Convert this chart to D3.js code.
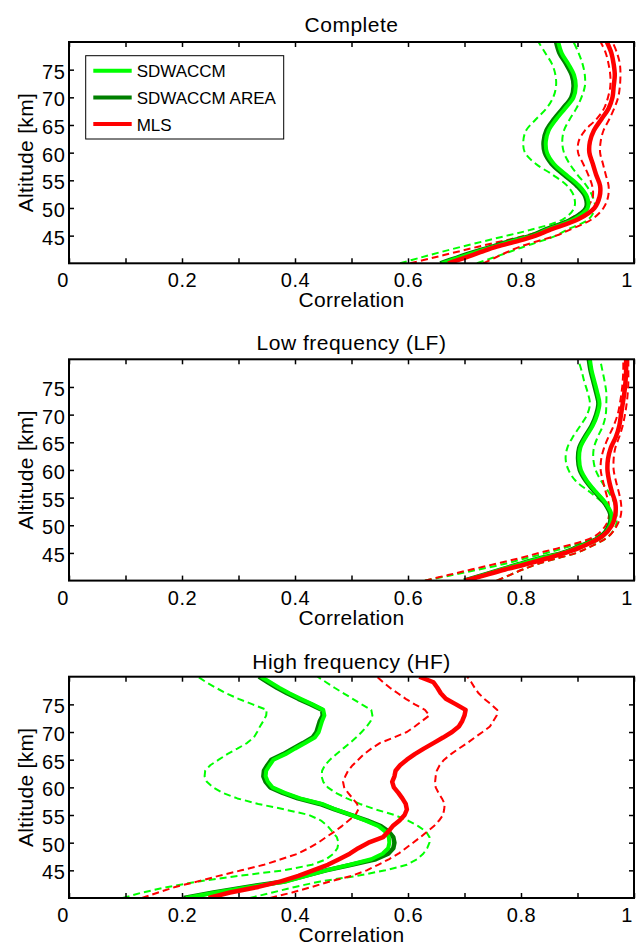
<!DOCTYPE html>
<html><head><meta charset="utf-8">
<script src="https://cdn.jsdelivr.net/npm/d3@7"></script>
<style>
html,body{margin:0;padding:0;background:#fff;}
svg{display:block;font-family:"Liberation Sans",Arial,Helvetica,sans-serif;}
</style></head><body>
<svg id="chart" width="637" height="945"></svg>
<script>
// ---------------- DATA ----------------
const titles = ["Complete", "Low frequency (LF)", "High frequency (HF)"];
const legendNames = ["SDWACCM", "SDWACCM AREA", "MLS"];
const xLabel = "Correlation";
const yLabel = "Altitude [km]";
const xTicks = [0, 0.1, 0.2, 0.3, 0.4, 0.5, 0.6, 0.7, 0.8, 0.9, 1];
const xLabelTicks = [0, 0.2, 0.4, 0.6, 0.8, 1];
const xTickLabels = ["0", "0.2", "0.4", "0.6", "0.8", "1"];
const yTicks = [45, 50, 55, 60, 65, 70, 75];
const yTickLabels = ["45", "50", "55", "60", "65", "70", "75"];

// Panels 1 & 2 altitude grid (km)
const altSmooth = [40,41,42,43,44,45,46,48,50,52,54,56,58,60,62,64,66,68,70,72,74,76,78,80];

// Panel 1: Complete
const p1Sd     = [0.660,0.690,0.720,0.752,0.785,0.822,0.845,0.895,0.918,0.917,0.903,0.880,0.858,0.846,0.844,0.849,0.862,0.878,0.893,0.897,0.894,0.884,0.872,0.866];
const p1SdArea = [0.657,0.686,0.716,0.748,0.781,0.818,0.841,0.891,0.915,0.914,0.899,0.876,0.854,0.842,0.840,0.845,0.858,0.874,0.889,0.893,0.890,0.880,0.868,0.862];
const p1SdLo   = [0.586,0.621,0.657,0.695,0.735,0.775,0.815,0.875,0.894,0.894,0.882,0.856,0.826,0.807,0.804,0.809,0.826,0.845,0.857,0.862,0.861,0.855,0.843,0.831];
const p1SdHi   = [0.722,0.750,0.778,0.805,0.835,0.862,0.880,0.920,0.931,0.927,0.916,0.900,0.886,0.876,0.873,0.876,0.886,0.898,0.907,0.913,0.913,0.909,0.902,0.893];
const p1Mls    = [0.671,0.700,0.728,0.757,0.794,0.826,0.850,0.902,0.930,0.939,0.940,0.933,0.927,0.921,0.922,0.929,0.942,0.955,0.962,0.964,0.966,0.964,0.960,0.952];
const p1MlsLo  = [0.604,0.644,0.684,0.724,0.766,0.808,0.840,0.885,0.916,0.927,0.926,0.919,0.910,0.901,0.902,0.913,0.933,0.947,0.954,0.958,0.958,0.955,0.950,0.941];
const p1MlsHi  = [0.733,0.754,0.775,0.798,0.829,0.862,0.885,0.926,0.946,0.954,0.955,0.950,0.945,0.940,0.941,0.946,0.956,0.965,0.972,0.975,0.976,0.975,0.970,0.962];

// Panel 2: Low frequency
const p2Sd     = [0.701,0.734,0.766,0.799,0.834,0.875,0.900,0.944,0.958,0.960,0.950,0.933,0.917,0.906,0.903,0.905,0.915,0.927,0.935,0.939,0.935,0.930,0.925,0.922];
const p2SdArea = [0.699,0.732,0.764,0.797,0.832,0.873,0.898,0.942,0.956,0.958,0.948,0.931,0.915,0.904,0.901,0.903,0.913,0.925,0.933,0.937,0.933,0.928,0.923,0.920];
const p2SdLo   = [0.630,0.678,0.725,0.770,0.807,0.845,0.880,0.935,0.955,0.957,0.945,0.922,0.897,0.884,0.879,0.882,0.892,0.905,0.917,0.922,0.918,0.912,0.907,0.901];
const p2SdHi   = [0.757,0.780,0.803,0.829,0.863,0.898,0.920,0.955,0.968,0.969,0.965,0.955,0.942,0.932,0.928,0.929,0.936,0.945,0.950,0.951,0.951,0.948,0.944,0.940];
const p2Mls    = [0.701,0.737,0.772,0.810,0.845,0.878,0.905,0.944,0.961,0.967,0.967,0.961,0.956,0.953,0.954,0.959,0.968,0.974,0.977,0.980,0.983,0.985,0.986,0.986];
const p2MlsLo  = [0.630,0.671,0.712,0.754,0.795,0.832,0.870,0.930,0.950,0.956,0.955,0.950,0.945,0.941,0.942,0.947,0.955,0.964,0.971,0.975,0.978,0.980,0.981,0.981];
const p2MlsHi  = [0.757,0.780,0.803,0.829,0.863,0.898,0.920,0.955,0.970,0.977,0.977,0.973,0.968,0.964,0.964,0.967,0.974,0.980,0.984,0.987,0.989,0.990,0.990,0.990];

// Panel 3 altitude grid (km)
const altHF = [40,41,42,43,44,45,46,47,48,49,50,51,52,53,54,55,56,57,58,59,60,61,62,63,64,65,66,67,68,69,70,71,72,73,74,75,76,77,78,79,80];

// Panel 3: High frequency
const p3Sd     = [0.207,0.260,0.320,0.385,0.420,0.455,0.497,0.535,0.555,0.565,0.567,0.566,0.560,0.548,0.525,0.500,0.472,0.448,0.409,0.382,0.360,0.352,0.348,0.349,0.355,0.362,0.383,0.400,0.418,0.435,0.442,0.445,0.448,0.452,0.450,0.431,0.410,0.390,0.372,0.356,0.340];
const p3SdArea = [0.203,0.256,0.315,0.381,0.418,0.455,0.500,0.543,0.565,0.574,0.576,0.574,0.566,0.552,0.528,0.500,0.470,0.444,0.405,0.378,0.356,0.348,0.344,0.345,0.351,0.358,0.379,0.396,0.414,0.431,0.438,0.441,0.444,0.449,0.448,0.428,0.406,0.386,0.368,0.352,0.336];
const p3SdLo   = [0.095,0.130,0.175,0.230,0.300,0.380,0.430,0.455,0.468,0.475,0.477,0.474,0.466,0.458,0.446,0.425,0.382,0.335,0.298,0.272,0.255,0.244,0.240,0.241,0.250,0.265,0.280,0.298,0.315,0.327,0.333,0.338,0.344,0.349,0.350,0.325,0.300,0.278,0.260,0.243,0.228];
const p3SdHi   = [0.320,0.360,0.400,0.445,0.510,0.560,0.598,0.616,0.627,0.634,0.638,0.638,0.632,0.618,0.600,0.576,0.543,0.515,0.492,0.472,0.458,0.450,0.447,0.448,0.453,0.462,0.473,0.485,0.497,0.508,0.518,0.527,0.534,0.537,0.535,0.518,0.502,0.486,0.470,0.455,0.440];
const p3Mls    = [0.247,0.285,0.335,0.375,0.406,0.432,0.458,0.478,0.497,0.512,0.530,0.556,0.565,0.573,0.585,0.594,0.598,0.596,0.590,0.583,0.575,0.572,0.576,0.578,0.586,0.598,0.612,0.628,0.645,0.662,0.678,0.690,0.696,0.700,0.702,0.685,0.667,0.658,0.652,0.645,0.620];
const p3MlsLo  = [0.129,0.158,0.188,0.228,0.265,0.305,0.345,0.375,0.405,0.424,0.441,0.455,0.470,0.483,0.495,0.507,0.512,0.510,0.502,0.494,0.487,0.485,0.489,0.494,0.502,0.512,0.522,0.535,0.550,0.575,0.598,0.612,0.625,0.638,0.630,0.612,0.596,0.582,0.568,0.556,0.545];
const p3MlsHi  = [0.356,0.395,0.430,0.462,0.500,0.527,0.547,0.566,0.583,0.596,0.609,0.622,0.634,0.646,0.655,0.662,0.664,0.665,0.660,0.654,0.649,0.648,0.649,0.651,0.656,0.664,0.676,0.690,0.705,0.718,0.732,0.745,0.751,0.757,0.758,0.747,0.735,0.725,0.718,0.712,0.705];

// ---------------- DRAWING ----------------
const LIME = "#00ff00", DKGREEN = "#008000", RED = "#ff0000";
const svg = d3.select("#chart");
const L = 69, R = 634, PH = 221.3;
const tops = [42, 359.3, 676.7];
const titleGaps = [9.7, 9.5, 7.6];
const x = d3.scaleLinear().domain([0, 1]).range([L, R]);

const panels = [
  {alts: altSmooth, sd: p1Sd, area: p1SdArea, sdLo: p1SdLo, sdHi: p1SdHi, mls: p1Mls, mlsLo: p1MlsLo, mlsHi: p1MlsHi, curve: d3.curveCatmullRom.alpha(0.5)},
  {alts: altSmooth, sd: p2Sd, area: p2SdArea, sdLo: p2SdLo, sdHi: p2SdHi, mls: p2Mls, mlsLo: p2MlsLo, mlsHi: p2MlsHi, curve: d3.curveCatmullRom.alpha(0.5)},
  {alts: altHF, sd: p3Sd, area: p3SdArea, sdLo: p3SdLo, sdHi: p3SdHi, mls: p3Mls, mlsLo: p3MlsLo, mlsHi: p3MlsHi, curve: d3.curveLinear}
];

const xFmt = d => {
  const i = xLabelTicks.findIndex(v => Math.abs(v - d) < 1e-9);
  return i >= 0 ? xTickLabels[i] : "";
};
const yFmt = d => {
  const i = yTicks.indexOf(d);
  return i >= 0 ? yTickLabels[i] : "";
};

const defs = svg.append("defs");

panels.forEach((p, i) => {
  const top = tops[i], bot = top + PH;
  const y = d3.scaleLinear().domain([40, 80]).range([bot, top]);
  const clipId = "clip" + i;
  defs.append("clipPath").attr("id", clipId)
    .append("rect").attr("x", L).attr("y", top).attr("width", R - L).attr("height", PH);

  const g = svg.append("g");
  const lines = g.append("g").attr("clip-path", `url(#${clipId})`);
  const line = d3.line().x(d => x(d[1])).y(d => y(d[0])).curve(p.curve);
  const series = [
    {v: p.sdLo, c: LIME, w: 2, dash: "7,4"},
    {v: p.sdHi, c: LIME, w: 2, dash: "7,4"},
    {v: p.mlsLo, c: RED, w: 2, dash: "7,4"},
    {v: p.mlsHi, c: RED, w: 2, dash: "7,4"},
    {v: p.area, c: DKGREEN, w: 4.5, dash: null},
    {v: p.sd, c: LIME, w: 4, dash: null},
    {v: p.mls, c: RED, w: 4.5, dash: null}
  ];
  series.forEach(s => {
    lines.append("path")
      .datum(p.alts.map((a, k) => [a, s.v[k]]))
      .attr("d", line)
      .attr("fill", "none")
      .attr("stroke", s.c)
      .attr("stroke-width", s.w)
      .attr("stroke-linejoin", "round")
      .attr("stroke-dasharray", s.dash);
  });

  // axes
  const styleAxis = sel => {
    sel.select(".domain").remove();
    sel.selectAll(".tick line").attr("stroke", "#000").attr("stroke-width", 1.5);
    sel.selectAll(".tick text").attr("fill", "#000").attr("font-size", 20)
      .attr("font-family", '"Liberation Sans", Arial, sans-serif').attr("letter-spacing", "0.6px");
  };
  g.append("g").attr("transform", `translate(0,${bot})`)
    .call(d3.axisBottom(x).tickValues(xTicks).tickFormat(xFmt).tickSizeInner(-5).tickSizeOuter(0).tickPadding(10))
    .call(styleAxis)
    .selectAll(".tick text")
    .attr("dx", d => (Math.abs(d) < 1e-9 ? -6.5 : (Math.abs(d - 1) < 1e-9 ? -7.5 : 0)));
  g.append("g").attr("transform", `translate(0,${top})`)
    .call(d3.axisTop(x).tickValues(xTicks).tickFormat(() => "").tickSizeInner(-5).tickSizeOuter(0))
    .call(styleAxis);
  g.append("g").attr("transform", `translate(${L},0)`)
    .call(d3.axisLeft(y).tickValues(yTicks).tickFormat(yFmt).tickSizeInner(-5).tickSizeOuter(0).tickPadding(3.5))
    .call(styleAxis)
    .selectAll(".tick text").attr("dy", "0.42em");
  g.append("g").attr("transform", `translate(${R},0)`)
    .call(d3.axisRight(y).tickValues(yTicks).tickFormat(() => "").tickSizeInner(-5).tickSizeOuter(0))
    .call(styleAxis);

  // box
  g.append("rect").attr("x", L).attr("y", top).attr("width", R - L).attr("height", PH)
    .attr("fill", "none").attr("stroke", "#000").attr("stroke-width", 2);

  // title
  g.append("text").attr("x", (L + R) / 2).attr("y", top - titleGaps[i])
    .attr("text-anchor", "middle").attr("font-size", 21).attr("letter-spacing", "0.5px").text(titles[i]);
  // x label
  g.append("text").attr("x", (L + R) / 2).attr("y", bot + 44)
    .attr("text-anchor", "middle").attr("font-size", 21).attr("letter-spacing", "0.3px").text(xLabel);
  // y label
  g.append("text").attr("transform", `translate(33,${(top + bot) / 2}) rotate(-90)`)
    .attr("text-anchor", "middle").attr("font-size", 21).attr("letter-spacing", "0.3px").text(yLabel);

  // legend (first panel only)
  if (i === 0) {
    const lg = g.append("g");
    lg.append("rect").attr("x", 85.7).attr("y", 55.7).attr("width", 198).attr("height", 83.3)
      .attr("fill", "#fff").attr("stroke", "#000").attr("stroke-width", 1);
    const legColors = [LIME, DKGREEN, RED];
    legendNames.forEach((name, k) => {
      const ly = 70.7 + k * 26.7;
      lg.append("line").attr("x1", 93.3).attr("x2", 131.7).attr("y1", ly).attr("y2", ly)
        .attr("stroke", legColors[k]).attr("stroke-width", 4);
      lg.append("text").attr("x", 136.7).attr("y", ly + 6.4).attr("font-size", 17).text(name);
    });
  }
});
</script>
</body></html>
